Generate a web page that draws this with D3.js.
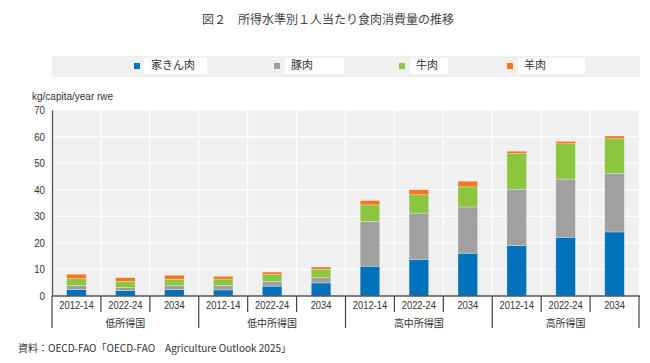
<!DOCTYPE html>
<html>
<head>
<meta charset="utf-8">
<script src="https://cdn.jsdelivr.net/npm/d3@7"></script>
<style>
  body { margin: 0; background: #fff; }
  text { font-family: "Liberation Sans Narrow", "Liberation Sans", Arial, sans-serif; }
  .jp { font-family: "Noto Sans CJK JP", sans-serif; }
</style>
</head>
<body>
<div class="customChart"></div>
<script>
const periods = ["2012-14", "2022-24", "2034"];
const groups = ["低所得国", "低中所得国", "高中所得国", "高所得国"];
const seriesNames = ["家きん肉", "豚肉", "牛肉", "羊肉"];
const seriesColors = ["#0072bc", "#a0a0a0", "#8cc63f", "#f37721"];
const poultry = [2.4, 2.1, 2.4, 2.3, 3.7, 4.9, 11.2, 13.8, 16.1, 19.0, 22.1, 24.1];
const pork = [1.6, 1.1, 1.5, 1.7, 1.7, 2.0, 16.9, 17.4, 17.4, 21.2, 21.9, 22.1];
const beef = [2.5, 2.3, 2.4, 2.4, 2.7, 3.2, 6.2, 6.9, 7.6, 13.4, 13.3, 13.0];
const sheep = [1.7, 1.4, 1.5, 1.0, 0.9, 0.8, 1.6, 1.9, 2.1, 0.9, 0.9, 1.0];
const yTicks = [0, 10, 20, 30, 40, 50, 60, 70];

const width = 650, height = 363;
const plot = {left: 52, right: 639, top: 110, bottom: 296};

const svg = d3.select('.customChart')
  .append('svg')
  .attr('width', width)
  .attr('height', height);

// one row per bar
const data = poultry.map((d, i) => ({
  key: String(i),
  period: periods[i % 3],
  [seriesNames[0]]: poultry[i],
  [seriesNames[1]]: pork[i],
  [seriesNames[2]]: beef[i],
  [seriesNames[3]]: sheep[i]
}));

const xScale = d3.scaleBand()
  .domain(data.map(d => d.key))
  .range([plot.left, plot.right])
  .paddingInner(0.6)
  .paddingOuter(0.3);

const yScale = d3.scaleLinear()
  .domain([0, 70])
  .range([plot.bottom, plot.top]);

const step = xScale.step();

// title
svg.append("text")
  .attr("class", "jp")
  .attr("x", 328)
  .attr("y", 24)
  .attr("text-anchor", "middle")
  .attr("font-size", 12)
  .attr("fill", "#444")
  .text("図２　所得水準別１人当たり食肉消費量の推移");

// legend band
svg.append("rect")
  .attr("x", 52).attr("y", 56)
  .attr("width", 588).attr("height", 21)
  .attr("fill", "#f0f0f0");

const legendX = [137, 277, 402, 510];
const legendBox = [[144, 63], [285, 59], [410, 38], [518, 67]];
const legend = svg.append("g")
  .selectAll("g")
  .data(seriesNames)
  .join("g");

legend.append("rect")
  .attr("x", (d, i) => legendBox[i][0])
  .attr("y", 58)
  .attr("width", (d, i) => legendBox[i][1])
  .attr("height", 16)
  .attr("fill", "#fff");

legend.append("rect")
  .attr("x", (d, i) => legendX[i] - 3)
  .attr("y", 63)
  .attr("width", 6)
  .attr("height", 6)
  .attr("fill", (d, i) => seriesColors[i]);

legend.append("text")
  .attr("class", "jp")
  .attr("x", (d, i) => legendX[i] + 14)
  .attr("y", 69)
  .attr("font-size", 11)
  .attr("fill", "#333")
  .text(d => d);

// plot background
svg.append("rect")
  .attr("x", plot.left).attr("y", plot.top)
  .attr("width", plot.right - plot.left)
  .attr("height", plot.bottom - plot.top)
  .attr("fill", "#f0f0f0");

// gridlines
svg.append("g")
  .selectAll("line")
  .data(yTicks.slice(1))
  .join("line")
  .attr("x1", plot.left).attr("x2", plot.right)
  .attr("y1", d => yScale(d)).attr("y2", d => yScale(d))
  .attr("stroke", "#fff")
  .attr("stroke-width", 1.2);

svg.append("g")
  .selectAll("line")
  .data(data.slice(1))
  .join("line")
  .attr("x1", d => xScale(d.key) - step * 0.3)
  .attr("x2", d => xScale(d.key) - step * 0.3)
  .attr("y1", plot.top).attr("y2", plot.bottom)
  .attr("stroke", "#fff")
  .attr("stroke-width", 1.2);

// stacked bars
const stacked = d3.stack().keys(seriesNames)(data);

svg.append("g")
  .selectAll("g")
  .data(stacked)
  .join("g")
  .attr("fill", (d, i) => seriesColors[i])
  .selectAll("rect")
  .data(d => d)
  .join("rect")
  .attr("x", d => xScale(d.data.key))
  .attr("y", d => yScale(d[1]))
  .attr("width", xScale.bandwidth())
  .attr("height", d => yScale(d[0]) - yScale(d[1]))
  .attr("stroke", "#ffffff")
  .attr("stroke-opacity", 0.45)
  .attr("stroke-width", 0.6);

// y axis
const yAxis = d3.axisLeft(yScale)
  .tickValues(yTicks)
  .tickSize(0)
  .tickPadding(8);

const leftAxis = svg.append("g")
  .attr("transform", `translate(${plot.left},0)`)
  .call(yAxis);
leftAxis.select(".domain").attr("stroke", "#555").attr("stroke-width", 1.3);
leftAxis.selectAll(".tick text")
  .attr("font-size", 11)
  .attr("fill", "#333")
  .attr("transform", "scale(0.88,1)");
leftAxis.selectAll(".tick line").remove();

svg.append("text")
  .attr("x", 32)
  .attr("y", 100)
  .attr("font-size", 10)
  .attr("fill", "#333")
  .text("kg/capita/year rwe");

// x axis
const xAxis = d3.axisBottom(xScale)
  .tickSize(0)
  .tickPadding(5)
  .tickFormat((d, i) => periods[i % 3]);

const bottomAxis = svg.append("g")
  .attr("transform", `translate(0,${plot.bottom})`)
  .call(xAxis);
bottomAxis.select(".domain").remove();
bottomAxis.selectAll(".tick text")
  .attr("font-size", 11)
  .attr("fill", "#333")
  .attr("transform", "scale(0.85,1)");

svg.append("line")
  .attr("x1", plot.left).attr("x2", plot.right + 1)
  .attr("y1", plot.bottom).attr("y2", plot.bottom)
  .attr("stroke", "#555")
  .attr("stroke-width", 1.3);

// category separators (short) and group separators (long)
const boundaries = d3.range(13);
svg.append("g")
  .selectAll("line")
  .data(boundaries)
  .join("line")
  .attr("x1", i => plot.left + i * step)
  .attr("x2", i => plot.left + i * step)
  .attr("y1", plot.bottom)
  .attr("y2", i => i % 3 === 0 ? plot.bottom + 32 : plot.bottom + 16)
  .attr("stroke", "#444")
  .attr("stroke-width", 1.2);

svg.append("g")
  .selectAll("text")
  .data(groups)
  .join("text")
  .attr("class", "jp")
  .attr("x", (d, i) => plot.left + (i * 3 + 1.5) * step)
  .attr("y", 327)
  .attr("text-anchor", "middle")
  .attr("font-size", 10)
  .attr("fill", "#333")
  .text(d => d);

// source note
svg.append("text")
  .attr("class", "jp")
  .attr("x", 18)
  .attr("y", 352)
  .attr("font-size", 10)
  .attr("fill", "#333")
  .text("資料：OECD-FAO「OECD-FAO　Agriculture Outlook 2025」");
</script>
</body>
</html>
